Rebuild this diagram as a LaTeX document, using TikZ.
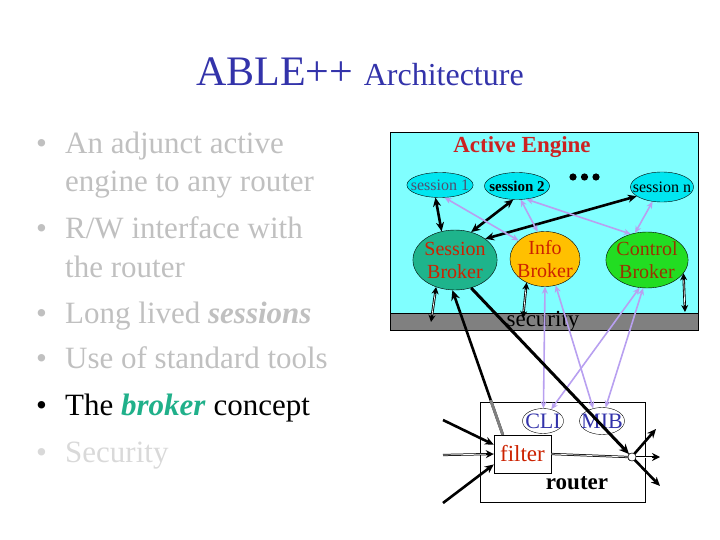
\documentclass[tikz,border=0pt]{standalone}
\usepackage{fontspec}
\setmainfont{Liberation Serif}
\usetikzlibrary{shapes.geometric,arrows.meta,calc}
\definecolor{titleblue}{HTML}{3333AA}
\definecolor{lgray}{HTML}{C0C0C0}
\definecolor{llgray}{HTML}{D9D9D9}
\definecolor{brokerteal}{HTML}{20B08A}
\definecolor{engcyan}{HTML}{80FFFF}
\definecolor{sesscyan}{HTML}{00E6F0}
\definecolor{sbteal}{HTML}{1EB48C}
\definecolor{iborange}{HTML}{FFC000}
\definecolor{cbgreen}{HTML}{22DD22}
\definecolor{brkred}{HTML}{CC2200}
\definecolor{cbtext}{HTML}{993300}
\definecolor{lav}{HTML}{B8A0F0}
\definecolor{bargray}{HTML}{808080}
\definecolor{aered}{HTML}{CC2222}
\definecolor{sesstext}{HTML}{505070}
\begin{document}
\begin{tikzpicture}[x=1pt,y=-1pt,
  bul/.style={anchor=base west, inner sep=0pt, font=\fontsize{31}{38}\selectfont},
  sess/.style={ellipse, draw, fill=sesscyan, inner ysep=0pt, font=\fontsize{16}{18}\selectfont},
  brk/.style={ellipse, draw, inner ysep=0pt, align=center, font=\fontsize{20}{23}\selectfont},
  thickarr/.style={line width=2.6pt},
  hollow/.style={line width=2.4pt, postaction={draw=white, line width=0.7pt, shorten >=#1, shorten <=#1, arrows=-}},
  hollowend/.style={line width=2.2pt, postaction={draw=white, line width=0.7pt, shorten >=#1, arrows=-}},
  purp/.style={draw=lav, line width=1.6pt, {Stealth[length=7pt,width=6pt]}-{Stealth[length=7pt,width=6pt]}},
]
\useasboundingbox (0,0) rectangle (720,540);

% title
\node[anchor=base, inner sep=0pt, text=titleblue, font=\fontsize{42}{46}\selectfont] (title) at (360,86)
  {ABLE++ {\fontsize{32}{36}\selectfont Architecture}};

% bullets
\begin{scope}[every node/.append style={bul}]
\node[text=lgray] (d1) at (36,154) {•};
\node[text=lgray] (b1a) at (65,154) {An adjunct active};
\node[text=lgray] (b1b) at (65,192) {engine to any router};
\node[text=lgray] (d2) at (36,238) {•};
\node[text=lgray] (b2a) at (65,238) {R/W interface with};
\node[text=lgray] (b2b) at (65,277) {the router};
\node[text=lgray] (d3) at (36,323) {•};
\node[text=lgray] (b3) at (65,323) {Long lived \textbf{\textit{sessions}}};
\node[text=lgray] (d4) at (36,368) {•};
\node[text=lgray] (b4) at (65,368) {Use of standard tools};
\node[text=black] (d5) at (36,415) {•};
\node[text=black] (b5) at (65,415) {The \textcolor{brokerteal}{\textbf{\textit{broker}}} concept};
\node[text=llgray] (d6) at (36,462) {•};
\node[text=llgray] (b6) at (65,462) {Security};
\end{scope}

% active engine box
\fill[engcyan] (390,132) rectangle (698,313);
\fill[bargray] (390,313) rectangle (698,330);
\draw[line width=0.6pt] (390,132) rectangle (698,330);
\draw[line width=0.6pt] (390,313) -- (698,313);
\node[text=aered, font=\bfseries\fontsize{23}{26}\selectfont] (ae) at (522,147) {Active Engine};
\node[font=\fontsize{23}{26}\selectfont] (sec) at (543,321) {security};

% sessions
\node[sess, inner xsep=-5.7pt, minimum width=66pt, minimum height=25pt, text=sesstext] (s1) at (440,185) {session 1};
\node[sess, inner xsep=-4.7pt, minimum width=65pt, minimum height=27pt, font=\bfseries\fontsize{15}{18}\selectfont] (s2) at (517,186) {session 2};
\node[sess, inner xsep=-6.8pt, minimum width=63pt, minimum height=30pt] (sn) at (662,187) {session n};
\fill (573,177) circle (3.6) (584.5,177) circle (3.6) (596,177) circle (3.6);

% brokers
\node[brk, inner xsep=-0.8pt, fill=sbteal, text=brkred, minimum width=84pt, minimum height=60pt] (sb) at (455,260) {Session\\Broker};
\node[brk, inner xsep=-3pt, inner ysep=-1.5pt, fill=iborange, text=brkred, minimum width=70pt, minimum height=55pt] (ib) at (545,259) {Info\\Broker};
\node[brk, inner xsep=-1.5pt, inner ysep=-1pt, fill=cbgreen, text=cbtext, minimum width=82pt, minimum height=56pt] (cb) at (647,260) {Control\\Broker};

% router
\node[draw, fill=white, line width=0.6pt, minimum width=165pt, minimum height=100pt, inner sep=0pt] (rt) at (562.5,452) {};
\node[font=\bfseries\fontsize{23}{26}\selectfont] (rtl) at (577,483) {router};
\node[ellipse, draw, inner xsep=-3.2pt, inner ysep=-1.5pt, minimum width=41pt, minimum height=25pt, text=titleblue, font=\fontsize{22}{24}\selectfont] (cli) at (543,421) {CLI};
\node[ellipse, draw, inner xsep=-4.9pt, inner ysep=-1pt, minimum width=45pt, minimum height=27pt, text=titleblue, font=\fontsize{22}{24}\selectfont] (mib) at (602,421) {MIB};
\node[draw, fill=white, inner sep=0pt, minimum width=57pt, minimum height=38pt, text=brkred, font=\fontsize{23}{26}\selectfont] (flt) at (522.5,454) {filter};
\node[circle, draw, fill=white, inner sep=0pt, minimum size=8pt] (jn) at (632,457) {};

% free ends
\coordinate (sec1) at (431,322);
\coordinate (sec2) at (523,318);
\coordinate (sec3) at (685,312);
\coordinate (in1) at (443,420);
\coordinate (in2) at (443,455);
\coordinate (in3) at (443,503);
\coordinate (out1) at (660,457);
\coordinate (out2) at (656,429);
\coordinate (out3) at (660,486);

% black session links
\draw[thickarr, {Stealth[length=9pt,width=8pt]}-{Stealth[length=9pt,width=8pt]}] (s1.250) -- (sb.115);
\draw[thickarr, {Stealth[length=9pt,width=8pt]}-{Stealth[length=9pt,width=8pt]}] (s2.255) -- (sb.60);
\draw[thickarr, {Stealth[length=9pt,width=8pt]}-{Stealth[length=9pt,width=8pt]}] (sn.200) -- (sb.35);

% broker to security
\draw[hollow=7pt, {Stealth[length=7pt,width=7pt]}-{Stealth[length=7pt,width=7pt]}] (sb.235) -- (sec1);
\draw[hollow=7pt, {Stealth[length=7pt,width=7pt]}-{Stealth[length=7pt,width=7pt]}] (ib.232) -- (sec2);
\draw[hollow=7pt, {Stealth[length=7pt,width=7pt]}-{Stealth[length=7pt,width=7pt]}] (cb.-20) -- (sec3);

% purple links
\draw[purp] (s1.290) -- (ib.145);
\draw[purp] (s2.285) -- (ib.105);
\draw[purp] (s2.305) -- (cb.122);
\draw[purp] (cb.114) -- (sn.237);
\draw[purp] (ib.270) -- (cli.88);
\draw[purp] (ib.292) -- (mib.125);
\draw[purp] (cb.255) -- (cli.55);
\draw[purp] (cb.262) -- (mib.75);

% long black links
\draw[line width=3pt, -{Stealth[length=10pt,width=9pt]}] (sb.300) -- (jn.135);
\coordinate (fs) at ([xshift=9pt]flt.north west);
\draw[line width=2.6pt, -{Stealth[length=10pt,width=9pt]}] (fs) -- (sb.265);
\draw[line width=2.8pt, gray] (fs) -- ($(fs)!0.24!(sb.265)$);

% router inputs/outputs
\draw[thickarr, -{Stealth[length=9pt,width=8pt]}] (in1) -- (flt.162);
\draw[hollowend=8pt, -{Stealth[length=8pt,width=8pt]}] (in2) -- (flt.west);
\draw[thickarr, -{Stealth[length=9pt,width=8pt]}] (in3) -- (flt.200);
\draw[hollowend=0pt] (flt.east) -- (jn.west);
\draw[hollowend=8pt, -{Stealth[length=8pt,width=8pt]}] (jn.east) -- (out1);
\draw[thickarr, -{Stealth[length=9pt,width=8pt]}] (jn.225) -- (out2);
\draw[thickarr, -{Stealth[length=9pt,width=8pt]}] (jn.135) -- (out3);
\node[circle, draw, fill=white, inner sep=0pt, minimum size=8pt] at (jn) {};
\end{tikzpicture}
\end{document}
